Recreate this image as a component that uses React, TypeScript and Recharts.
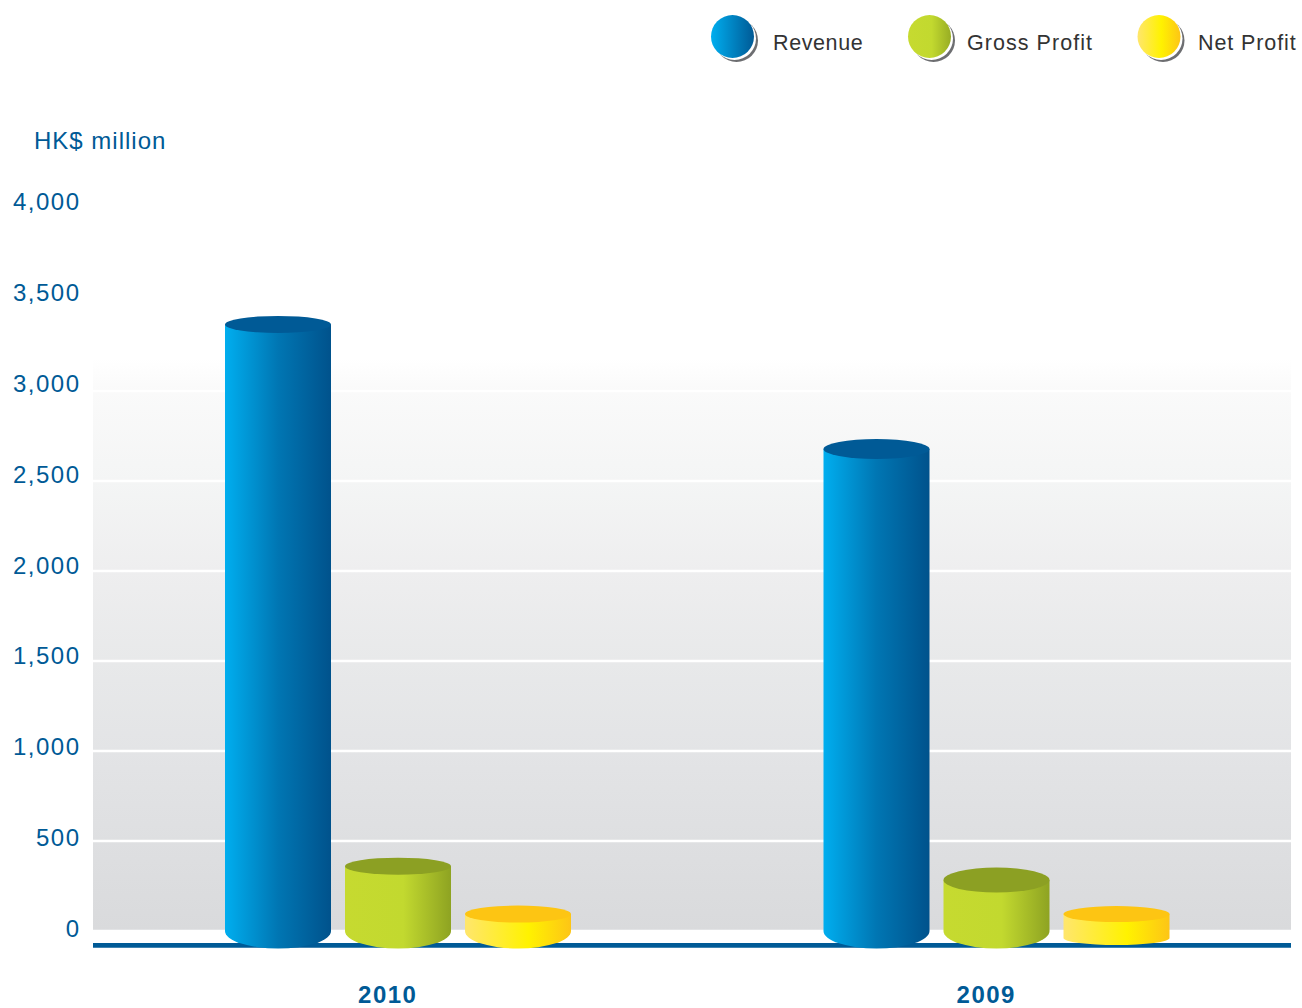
import { Bar, BarChart, CartesianGrid, Legend, XAxis, YAxis } from "recharts";

const years = ["2010", "2009"];
const revenue = [3370, 2678];
const grossProfit = [360, 283];
const netProfit = [94, 94];
const yTicks = [0, 500, 1000, 1500, 2000, 2500, 3000, 3500, 4000];

const data = years.map((year, i) => ({
  year,
  revenue: revenue[i],
  grossProfit: grossProfit[i],
  netProfit: netProfit[i],
}));

const BLUE = "#005a96";
const FONT = '"Liberation Sans", Arial, sans-serif';

// cylinder look per series: [2010, 2009]
const cylinders: Record<string, any> = {
  revenue: { grad: "gradRevenue", cap: "#005a96", capRy: [8.5, 10], drop: [0, 0], bottomRy: [17.5, 17.5] },
  grossProfit: { grad: "gradGross", cap: "#8ca023", capRy: [8.5, 12.5], drop: [0, 0], bottomRy: [17.5, 17.5] },
  netProfit: { grad: "gradNet", cap: "#fdc513", capRy: [8.5, 8], drop: [0, 7], bottomRy: [17.5, 7] },
};

const Cylinder = (props: any) => {
  const { x, y, width, height, index, dataKey } = props;
  const c = cylinders[dataKey];
  const rx = width / 2;
  const capRy = c.capRy[index];
  const base = y + height + c.drop[index];
  const bottomRy = c.bottomRy[index];
  const side = `M${x},${y} L${x},${base} A${rx},${bottomRy} 0 0 0 ${x + width},${base} L${x + width},${y} Z`;
  return (
    <g>
      <path d={side} fill={`url(#${c.grad})`} />
      <ellipse cx={x + rx} cy={y} rx={rx} ry={capRy} fill={c.cap} />
    </g>
  );
};

// tick labels sit slightly above their grid lines, more so towards the top
const YTick = ({ y, payload }: any) => (
  <text
    x={80.5}
    y={y - 2 - (payload.value / 4000) * 7}
    dy={8}
    textAnchor="end"
    fill={BLUE}
    fontFamily={FONT}
    fontSize={24}
    letterSpacing={1.5}
  >
    {payload.value.toLocaleString("en-US")}
  </text>
);

const XTick = ({ x, payload }: any) => (
  <text
    x={x - 10.5}
    y={1003}
    textAnchor="middle"
    fill={BLUE}
    fontFamily={FONT}
    fontSize={24}
    fontWeight="bold"
    letterSpacing={1.5}
  >
    {payload.value}
  </text>
);

const legendItems = [
  { name: "Revenue", grad: "gradLegendRevenue", cx: 732.5, textX: 773, spacing: 0.6 },
  { name: "Gross Profit", grad: "gradLegendGross", cx: 929.5, textX: 967, spacing: 1.05 },
  { name: "Net Profit", grad: "gradLegendNet", cx: 1159, textX: 1198, spacing: 0.9 },
];

const ChartLegend = () => (
  <svg width={1302} height={70} style={{ display: "block", overflow: "visible" }}>
    <defs>
      <linearGradient id="gradLegendRevenue" x1="0" y1="0" x2="1" y2="0">
        <stop offset="0%" stopColor="#00aeef" />
        <stop offset="100%" stopColor="#005a96" />
      </linearGradient>
      <linearGradient id="gradLegendGross" x1="0" y1="0" x2="1" y2="0">
        <stop offset="0%" stopColor="#c6da30" />
        <stop offset="55%" stopColor="#c2d92f" />
        <stop offset="100%" stopColor="#98ad24" />
      </linearGradient>
      <linearGradient id="gradLegendNet" x1="0" y1="0" x2="1" y2="0">
        <stop offset="0%" stopColor="#ffe66d" />
        <stop offset="55%" stopColor="#fff200" />
        <stop offset="100%" stopColor="#fdc516" />
      </linearGradient>
    </defs>
    {legendItems.map((item) => (
      <g key={item.name}>
        <circle cx={item.cx + 4} cy={40.5} r={21.5} fill="#6d6e71" />
        <circle cx={item.cx + 2} cy={38.5} r={21.5} fill="#fff" />
        <circle cx={item.cx} cy={36.5} r={21.5} fill={`url(#${item.grad})`} />
        <text
          x={item.textX}
          y={50}
          fill="#333"
          fontFamily={FONT}
          fontSize={21.5}
          letterSpacing={item.spacing}
        >
          {item.name}
        </text>
      </g>
    ))}
  </svg>
);

export default function App() {
  return (
    <div style={{ position: "absolute", left: 0, top: 0, width: 1302, height: 1008, background: "#fff" }}>
      <div
        style={{
          position: "absolute",
          left: 34,
          top: 127,
          color: BLUE,
          fontFamily: FONT,
          fontSize: 24,
          letterSpacing: 1,
          lineHeight: "28px",
        }}
      >
        HK$ million
      </div>
      <BarChart
        width={1302}
        height={1008}
        data={data}
        barSize={106}
        barGap={14}
        margin={{ top: 211, right: 11, left: 0, bottom: 0 }}
        style={{ position: "absolute", left: 0, top: 0 }}
      >
        <defs>
          {/* plot shading, white strip under zero, then the base band */}
          <linearGradient id="plotBg" x1="0" y1="0" x2="0" y2="1">
            <stop offset="20%" stopColor="#ffffff" />
            <stop offset="24.4%" stopColor="#fafafa" />
            <stop offset="36.6%" stopColor="#f4f5f5" />
            <stop offset="48.8%" stopColor="#eeeeef" />
            <stop offset="61%" stopColor="#e8e9ea" />
            <stop offset="73.2%" stopColor="#e3e4e6" />
            <stop offset="85.4%" stopColor="#dedfe1" />
            <stop offset="97.56%" stopColor="#d9dadc" />
            <stop offset="97.56%" stopColor="#ffffff" />
            <stop offset="99.2%" stopColor="#ffffff" />
            <stop offset="99.2%" stopColor={BLUE} />
          </linearGradient>
          <linearGradient id="gradRevenue" x1="0" y1="0" x2="1" y2="0">
            <stop offset="0%" stopColor="#00aeef" />
            <stop offset="50%" stopColor="#0076b3" />
            <stop offset="100%" stopColor="#00528c" />
          </linearGradient>
          <linearGradient id="gradGross" x1="0" y1="0" x2="1" y2="0">
            <stop offset="0%" stopColor="#c6da30" />
            <stop offset="55%" stopColor="#c2d92f" />
            <stop offset="100%" stopColor="#8ea322" />
          </linearGradient>
          <linearGradient id="gradNet" x1="0" y1="0" x2="1" y2="0">
            <stop offset="0%" stopColor="#ffe66d" />
            <stop offset="60%" stopColor="#fff200" />
            <stop offset="100%" stopColor="#fdc516" />
          </linearGradient>
        </defs>
        <CartesianGrid
          vertical={false}
          stroke="#ffffff"
          strokeWidth={2.5}
          fill="url(#plotBg)"
          fillOpacity={1}
        />
        <XAxis
          dataKey="year"
          height={59}
          padding={{ left: 6, right: -5 }}
          axisLine={false}
          tickLine={false}
          tick={<XTick />}
          interval={0}
        />
        <YAxis
          type="number"
          width={93}
          domain={[-100, 4000]}
          ticks={yTicks}
          axisLine={false}
          tickLine={false}
          tick={<YTick />}
          interval={0}
        />
        <Legend
          content={<ChartLegend />}
          wrapperStyle={{ position: "absolute", left: 0, top: 0, width: 1302, height: 0, overflow: "visible" }}
        />
        <Bar dataKey="revenue" name="Revenue" fill="#0076b3" shape={<Cylinder dataKey="revenue" />} isAnimationActive={false} />
        <Bar dataKey="grossProfit" name="Gross Profit" fill="#bed62f" shape={<Cylinder dataKey="grossProfit" />} isAnimationActive={false} />
        <Bar dataKey="netProfit" name="Net Profit" fill="#fff200" shape={<Cylinder dataKey="netProfit" />} isAnimationActive={false} />
      </BarChart>
    </div>
  );
}
